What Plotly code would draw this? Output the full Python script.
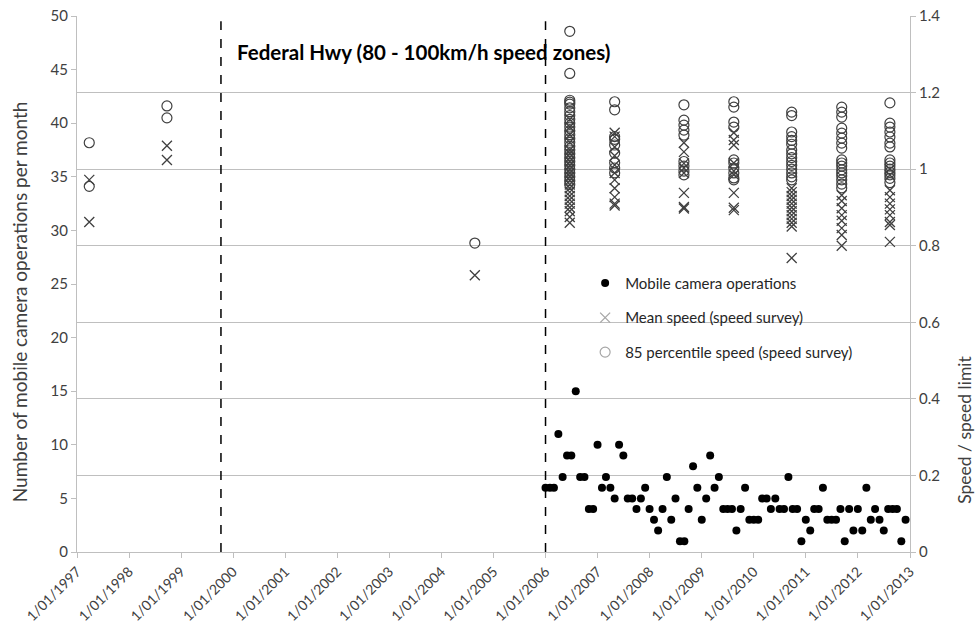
import plotly.graph_objects as go
import pandas as pd

# ---- data ----
camera_months = pd.date_range("2006-01-01", periods=84, freq="MS").strftime("%Y-%m-%d").tolist()
camera_ops = [6, 6, 6, 11, 7, 9, 9, 15, 7, 7, 4, 4, 10, 6, 7, 6, 5, 10, 9, 5,
              5, 4, 5, 6, 4, 3, 2, 4, 7, 3, 5, 1, 1, 4, 8, 6, 3, 5, 9, 6,
              7, 4, 4, 4, 2, 4, 6, 3, 3, 3, 5, 5, 4, 5, 4, 4, 7, 4, 4, 1,
              3, 2, 4, 4, 6, 3, 3, 3, 4, 1, 4, 2, 4, 2, 6, 3, 4, 3, 2, 4,
              4, 4, 1, 3]

survey_dates = ["1997-03-28", "1998-09-24", "2004-08-23", "2006-06-20", "2007-05-01",
                "2008-08-29", "2009-08-14", "2010-09-24", "2011-09-10", "2012-08-13"]

mean_speed = [
    [0.972, 0.862],
    [1.061, 1.024],
    [0.723],
    [1.13, 1.11, 1.09, 1.07, 1.05, 1.04, 1.03, 1.02, 1.01, 1.00, 0.99, 0.98, 0.97,
     0.96, 0.95, 0.94, 0.93, 0.92, 0.91, 0.90, 0.89, 0.875, 0.86],
    [1.095, 1.085, 1.058, 1.035, 1.011, 0.99, 0.972, 0.95, 0.927, 0.91, 0.905],
    [1.069, 1.045, 1.015, 1.003, 0.99, 0.938, 0.901, 0.897],
    [1.095, 1.076, 1.063, 1.016, 0.995, 0.985, 0.938, 0.899, 0.893],
    [0.95, 0.94, 0.93, 0.92, 0.91, 0.90, 0.89, 0.88, 0.87, 0.86, 0.85, 0.768],
    [0.932, 0.917, 0.898, 0.880, 0.865, 0.846, 0.828, 0.80],
    [1.0, 0.985, 0.945, 0.927, 0.91, 0.895, 0.88, 0.862, 0.854, 0.81],
]

p85_speed = [
    [1.069, 0.955],
    [1.165, 1.134],
    [0.807],
    [1.36, 1.25, 1.18, 1.175, 1.17, 1.16, 1.15, 1.14, 1.13, 1.12, 1.11, 1.10, 1.09,
     1.08, 1.07, 1.06, 1.05, 1.04, 1.03, 1.02, 1.01, 1.00, 0.99, 0.98, 0.97, 0.96],
    [1.176, 1.155, 1.085, 1.078, 1.063, 1.042, 1.017, 1.003, 0.99],
    [1.168, 1.128, 1.115, 1.102, 1.089, 1.02, 1.008, 0.995, 0.985],
    [1.176, 1.162, 1.123, 1.110, 1.024, 1.016, 1.003, 0.99, 0.977, 0.972],
    [1.149, 1.14, 1.097, 1.085, 1.075, 1.065, 1.05, 1.04, 1.03, 1.02, 1.01, 1.0,
     0.99, 0.98, 0.972],
    [1.162, 1.149, 1.136, 1.107, 1.094, 1.081, 1.068, 1.055, 1.024, 1.016, 1.008,
     0.998, 0.99, 0.982, 0.972, 0.961, 0.951],
    [1.173, 1.12, 1.11, 1.097, 1.084, 1.068, 1.058, 1.024, 1.016, 1.008, 1.0,
     0.992, 0.985, 0.976, 0.965],
]

regime_change_dates = ["1999-10-08", "2006-01-01"]

year_ticks = [f"{y}-01-01" for y in range(1997, 2014)]
year_labels = [f"1/01/{y}" for y in range(1997, 2014)]

chart_title = "Federal Hwy (80 - 100km/h speed zones)"
left_title = "Number of mobile camera operations per month"
right_title = "Speed / speed limit"

# ---- flatten survey data ----
mean_x, mean_y, p85_x, p85_y = [], [], [], []
for d, vals in zip(survey_dates, mean_speed):
    mean_x += [d] * len(vals)
    mean_y += vals
for d, vals in zip(survey_dates, p85_speed):
    p85_x += [d] * len(vals)
    p85_y += vals

FONT = "Lato"
mark_col = "#404040"
leg_col = "#a6a6a6"
axis_col = "#bfbfbf"
text_col = "#404040"

fig = go.Figure()

fig.add_trace(go.Scatter(
    x=camera_months, y=camera_ops, mode="markers", name="Mobile camera operations",
    marker=dict(symbol="circle", size=8, color="black"), yaxis="y",
    legendgroup="a"))

fig.add_trace(go.Scatter(
    x=mean_x, y=mean_y, mode="markers", name="Mean speed (speed survey)",
    marker=dict(symbol="x-thin-open", size=10, color=mark_col,
                line=dict(color=mark_col, width=1.3)),
    yaxis="y2", showlegend=False))
fig.add_trace(go.Scatter(
    x=p85_x, y=p85_y, mode="markers", name="85 percentile speed (speed survey)",
    marker=dict(symbol="circle-open", size=10, color=mark_col,
                line=dict(color=mark_col, width=1.2)),
    yaxis="y2", showlegend=False))

# legend-only entries (lighter markers as in reference legend)
fig.add_trace(go.Scatter(
    x=[None], y=[None], mode="markers", name="Mean speed (speed survey)",
    marker=dict(symbol="x-thin-open", size=10, color=leg_col,
                line=dict(color=leg_col, width=1.3)),
    yaxis="y2", legendgroup="b"))
fig.add_trace(go.Scatter(
    x=[None], y=[None], mode="markers", name="85 percentile speed (speed survey)",
    marker=dict(symbol="circle-open", size=10, color=leg_col,
                line=dict(color=leg_col, width=1.2)),
    yaxis="y2", legendgroup="c"))

for d in regime_change_dates:
    fig.add_shape(type="line", xref="x", yref="paper", x0=d, x1=d, y0=0, y1=0.99,
                  line=dict(color="black", width=1.5, dash="dash"))

fig.add_annotation(text=f"<b>{chart_title}</b>", xref="paper", yref="paper",
                   x=0.19, y=0.933, xanchor="left", yanchor="middle", showarrow=False,
                   font=dict(family=FONT, size=20.5, color="black"))
fig.add_annotation(text=left_title, xref="paper", yref="paper", x=0, y=0.466,
                   xanchor="center", yanchor="middle", xshift=-58, textangle=-90,
                   showarrow=False, font=dict(family=FONT, size=19, color=text_col))
fig.add_annotation(text=right_title, xref="paper", yref="paper", x=1, y=0.228,
                   xanchor="center", yanchor="middle", xshift=55, textangle=-90,
                   showarrow=False, font=dict(family=FONT, size=17.5, color=text_col))

fig.update_layout(
    width=978, height=639,
    margin=dict(l=77, r=68, t=16, b=87, autoexpand=False),
    paper_bgcolor="white", plot_bgcolor="white",
    font=dict(family=FONT, size=15, color=text_col),
    showlegend=True,
    legend=dict(x=0.61, y=0.532, xanchor="left", yanchor="top",
                bgcolor="rgba(0,0,0,0)", font=dict(family=FONT, size=15, color="#262626"),
                tracegroupgap=12, itemwidth=30),
    xaxis=dict(type="date", range=["1997-01-01", "2013-01-01"],
               tickvals=year_ticks, ticktext=year_labels, tickangle=-45,
               showline=True, linecolor=axis_col, linewidth=1,
               ticks="outside", ticklen=5, tickcolor=axis_col,
               showgrid=False, zeroline=False, automargin=False,
               ticklabeloverflow="allow",
               tickfont=dict(family=FONT, size=14, color=text_col)),
    yaxis=dict(range=[0, 50], dtick=5, showgrid=False, zeroline=False,
               showline=True, linecolor=axis_col, ticks="outside", ticklen=5,
               tickcolor=axis_col, automargin=False, ticklabeloverflow="allow",
               tickfont=dict(family=FONT, size=15, color=text_col)),
    yaxis2=dict(range=[0, 1.4], dtick=0.2, overlaying="y", side="right",
                showgrid=True, gridcolor=axis_col, gridwidth=1, zeroline=False,
                showline=True, linecolor=axis_col, ticks="outside", ticklen=5,
                tickcolor=axis_col, automargin=False, ticklabeloverflow="allow",
                tickfont=dict(family=FONT, size=15, color=text_col)),
)

fig.write_html("out.html", config={"displayModeBar": False},
               post_script="document.body.style.margin='0';document.body.style.overflow='hidden';")
